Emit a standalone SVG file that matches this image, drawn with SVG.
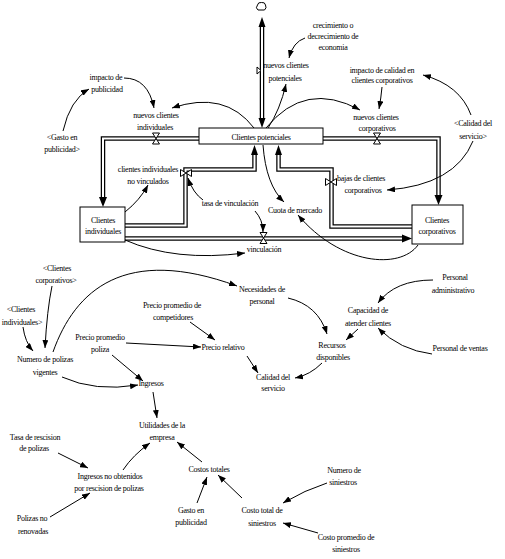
<svg xmlns="http://www.w3.org/2000/svg" width="505" height="559" viewBox="0 0 505 559">
<style>
text{font-family:"Liberation Serif","Times New Roman",serif;font-size:8px;letter-spacing:-0.25px;fill:#000;text-anchor:middle}
.c{fill:none;stroke:#000;stroke-width:1;marker-end:url(#ah)}
.po{fill:none;stroke:#000;stroke-width:4.5}
.pi{fill:none;stroke:#fff;stroke-width:2}
.pa{fill:#000}
.v{fill:#fff;stroke:#000;stroke-width:1}
.s{fill:#fff;stroke:#000;stroke-width:1}
</style>
<defs>
<marker id="ah" viewBox="0 0 10 10" refX="10" refY="5" markerWidth="8" markerHeight="6" markerUnits="userSpaceOnUse" orient="auto" preserveAspectRatio="none">
<path d="M0,0 L10,5 L0,10 z" fill="#000"/>
</marker>
</defs>
<rect width="505" height="559" fill="#fff"/>

<g id="flows">
<path class="po" d="M262,27 V118"/><path class="pi" d="M262,27 V118"/>
<path class="po" d="M199,138.5 H103 V197"/><path class="pi" d="M199,138.5 H103 V197"/>
<path class="po" d="M125,225.5 H185.5 V169.5 H254.5 V155"/><path class="pi" d="M125,225.5 H185.5 V169.5 H254.5 V155"/>
<path class="po" d="M412,226.5 H331.5 V169.5 H278.5 V155"/><path class="pi" d="M412,226.5 H331.5 V169.5 H278.5 V155"/>
<path class="po" d="M323,138.5 H438.5 V195"/><path class="pi" d="M323,138.5 H438.5 V195"/>
<path class="po" d="M125,238.5 H402"/><path class="pi" d="M125,238.5 H402"/>
<polygon class="pa" points="262,17 258.5,27 265.5,27"/>
<polygon class="pa" points="262,128 258.5,118 265.5,118"/>
<polygon class="pa" points="103,207 99,197 107,197"/>
<polygon class="pa" points="438.5,205 434.5,195 442.5,195"/>
<polygon class="pa" points="412,238.5 402,234.5 402,242.5"/>
<polygon class="pa" points="254.5,145 251,155 258,155"/>
<polygon class="pa" points="278.5,145 275,155 282,155"/>
<path class="v" d="M258,10 Q255,8 257.5,5 Q258,2 261.5,2.5 Q265,2 265.5,5 Q267,8 264.5,10 Z"/>
<path class="v" d="M257,67 L261,70.5 L257,74 Z"/>
<path class="v" d="M152.5,133 H159.5 L152.5,144 H159.5 Z"/>
<path class="v" d="M373.5,133 H380.5 L373.5,144 H380.5 Z"/>
<path class="v" d="M260,232.5 H267 L260,243.5 H267 Z"/>
<path class="v" d="M180.5,169.5 V176.5 L191.5,169.5 V176.5 Z"/>
<path class="v" d="M325.5,178.5 V185.5 L336.5,178.5 V185.5 Z"/>
</g>

<g id="connectors">
<path class="c" d="M63,131 Q70,100 89,89"/>
<path class="c" d="M124,78 Q148,78 154,108"/>
<path class="c" d="M254,128 Q225,90 172,108"/>
<path class="c" d="M305,38 Q293,42 289,58"/>
<path class="c" d="M268,128 Q280,110 286,84"/>
<path class="c" d="M266,128 Q305,80 360,110"/>
<path class="c" d="M382,87 Q381,98 379,109"/>
<path class="c" d="M471,115 Q460,85 423,75"/>
<path class="c" d="M473,141 Q455,185 387,190"/>
<path class="c" d="M125,212 Q140,200 148,185"/>
<path class="c" d="M203,200 Q193,193 188,178"/>
<path class="c" d="M255,211 Q263,220 263,232"/>
<path class="c" d="M125,240 Q175,262 245,253"/>
<path class="c" d="M263,145 Q266,185 284,202"/>
<path class="c" d="M418,245 C400,270 340,265 298,215"/>
<path class="c" d="M52,286 Q47,310 45,348"/>
<path class="c" d="M23,327 Q25,342 33,351"/>
<path class="c" d="M53,352 C75,290 125,245 237,286"/>
<path class="c" d="M190,322 L215,340"/>
<path class="c" d="M126,343 L201,347"/>
<path class="c" d="M247,356 L258,373"/>
<path class="c" d="M112,355 L143,381"/>
<path class="c" d="M62,377 Q95,392 138,385"/>
<path class="c" d="M153,392 Q155,405 157,418"/>
<path class="c" d="M288,298 Q318,305 327,334"/>
<path class="c" d="M322,363 Q310,375 295,378"/>
<path class="c" d="M358,329 L346,340"/>
<path class="c" d="M433,280 Q395,280 378,303"/>
<path class="c" d="M432,354 Q400,350 378,328"/>
<path class="c" d="M58,453 L88,468"/>
<path class="c" d="M123,470 Q133,455 150,443"/>
<path class="c" d="M50,517 L90,493"/>
<path class="c" d="M202,462 L177,442"/>
<path class="c" d="M197,503 L207,477"/>
<path class="c" d="M242,498 L218,475"/>
<path class="c" d="M327,483 Q305,490 283,503"/>
<path class="c" d="M318,533 L283,523"/>
</g>

<g id="clientes-potenciales"><rect class="s" x="199" y="128" width="124" height="16"/><text x="261" y="140">Clientes potenciales</text></g>
<g id="clientes-individuales"><rect class="s" x="80" y="207" width="45" height="35"/><text x="103" y="223">Clientes</text><text x="103" y="234">individuales</text></g>
<g id="clientes-corporativos"><rect class="s" x="412" y="205" width="51" height="39"/><text x="437" y="223">Clientes</text><text x="437" y="234">corporativos</text></g>

<g id="crecimiento"><text x="333" y="28">crecimiento o</text><text x="333" y="39">decrecimiento de</text><text x="333" y="50">economia</text></g>
<g id="nuevos-potenciales"><text x="286" y="68">nuevos clientes</text><text x="285" y="81">potenciales</text></g>
<g id="impacto-calidad"><text x="382" y="73">impacto de calidad en</text><text x="382" y="83">clientes corporativos</text></g>
<g id="nuevos-corporativos"><text x="376" y="120">nuevos clientes</text><text x="377" y="131">corporativos</text></g>
<g id="calidad-servicio-shadow"><text x="473" y="126">&lt;Calidad del</text><text x="473" y="139">servicio&gt;</text></g>
<g id="impacto-publicidad"><text x="106" y="80">impacto de</text><text x="107" y="92">publicidad</text></g>
<g id="nuevos-individuales"><text x="156" y="118">nuevos clientes</text><text x="155" y="130">individuales</text></g>
<g id="gasto-shadow"><text x="62" y="140">&lt;Gasto en</text><text x="62" y="152">publicidad&gt;</text></g>
<g id="no-vinculados"><text x="148" y="172">clientes individuales</text><text x="148" y="184">no vinculados</text></g>
<g id="tasa-vinculacion"><text x="230" y="206">tasa de vinculación</text></g>
<g id="cuota-mercado"><text x="295" y="213">Cuota de mercado</text></g>
<g id="bajas"><text x="361" y="181">bajas de clientes</text><text x="363" y="193">corporativos</text></g>
<g id="vinculacion"><text x="264" y="252">vinculación</text></g>

<g id="corp-shadow"><text x="57" y="271">&lt;Clientes</text><text x="56" y="283">corporativos&gt;</text></g>
<g id="ind-shadow"><text x="21" y="312">&lt;Clientes</text><text x="22" y="325">individuales&gt;</text></g>
<g id="numero-polizas"><text x="45" y="362">Numero de polizas</text><text x="45" y="375">vigentes</text></g>
<g id="necesidades"><text x="262" y="292">Necesidades de</text><text x="262" y="304">personal</text></g>
<g id="precio-competidores"><text x="172" y="308">Precio promedio de</text><text x="173" y="320">competidores</text></g>
<g id="precio-poliza"><text x="100" y="340">Precio promedio</text><text x="100" y="352">poliza</text></g>
<g id="precio-relativo"><text x="223" y="350">Precio relativo</text></g>
<g id="calidad"><text x="273" y="380">Calidad del</text><text x="273" y="391">servicio</text></g>
<g id="ingresos"><text x="151" y="386">Ingresos</text></g>
<g id="recursos"><text x="332" y="348">Recursos</text><text x="333" y="360">disponibles</text></g>
<g id="capacidad"><text x="368" y="313">Capacidad de</text><text x="368" y="326">atender clientes</text></g>
<g id="personal-admin"><text x="455" y="280">Personal</text><text x="453" y="293">administrativo</text></g>
<g id="personal-ventas"><text x="460" y="351">Personal de ventas</text></g>

<g id="utilidades"><text x="162" y="428">Utilidades de la</text><text x="162" y="440">empresa</text></g>
<g id="tasa-rescision"><text x="35" y="440">Tasa de rescision</text><text x="34" y="451">de polizas</text></g>
<g id="ingresos-no-obtenidos"><text x="110" y="479">Ingresos no obtenidos</text><text x="109" y="491">por rescision de polizas</text></g>
<g id="polizas-no-renovadas"><text x="32" y="521">Polizas no</text><text x="33" y="534">renovadas</text></g>
<g id="costos-totales"><text x="209" y="472">Costos totales</text></g>
<g id="gasto-publicidad"><text x="191" y="513">Gasto en</text><text x="191" y="525">publicidad</text></g>
<g id="costo-total-siniestros"><text x="262" y="513">Costo total de</text><text x="262" y="526">siniestros</text></g>
<g id="numero-siniestros"><text x="344" y="473">Numero de</text><text x="343" y="485">siniestros</text></g>
<g id="costo-promedio"><text x="346" y="540">Costo promedio de</text><text x="346" y="552">siniestros</text></g>
</svg>
